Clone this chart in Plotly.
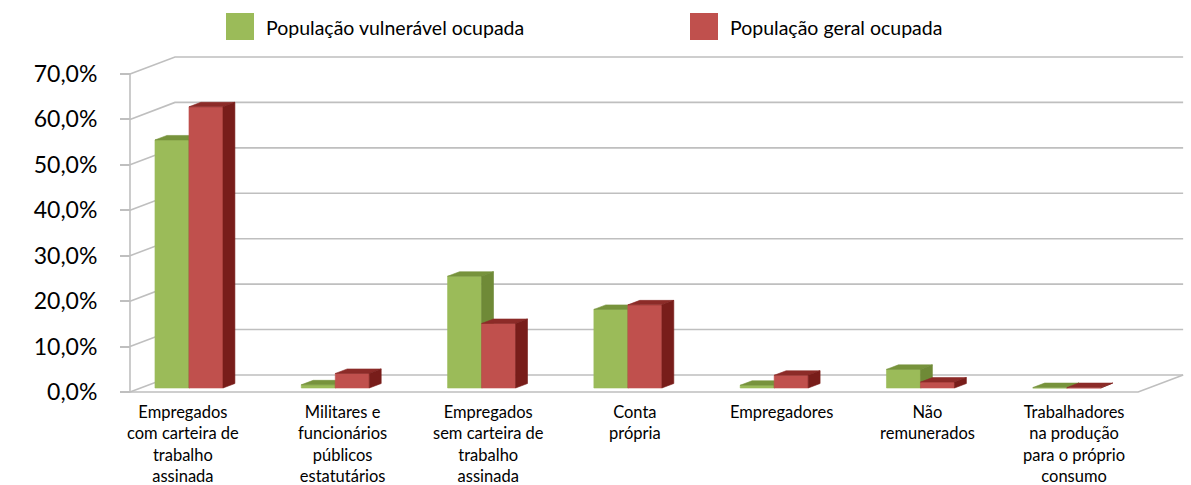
import plotly.graph_objects as go

# --- data -------------------------------------------------------------
categories = [
    "Empregados<br>com carteira de<br>trabalho<br>assinada",
    "Militares e<br>funcionários<br>públicos<br>estatutários",
    "Empregados<br>sem carteira de<br>trabalho<br>assinada",
    "Conta<br>própria",
    "Empregadores",
    "Não<br>remunerados",
    "Trabalhadores<br>na produção<br>para o próprio<br>consumo",
]
vulneravel = [54.6, 0.7, 24.6, 17.3, 0.6, 4.1, 0.1]
geral = [61.9, 3.2, 14.2, 18.3, 2.8, 1.3, 0.1]
series_names = ["População vulnerável ocupada", "População geral ocupada"]
y_ticks = [0, 10, 20, 30, 40, 50, 60, 70]
y_tick_text = [f"{v:.1f}%".replace(".", ",") for v in y_ticks]

# --- figure geometry --------------------------------------------------
W, H = 1191, 485
PX_PER_CAT = 146.3          # pixels per category step
PX_PER_PCT = 4.543          # pixels per percentage point
X0_PX = 178.4               # pixel x of category 0 on the front plane
Y0_PX = 392.0               # pixel y of 0 % on the front plane

# oblique depth vector (front plane -> back wall), in data units
DX = 45.0 / PX_PER_CAT
DY = 17.0 / PX_PER_PCT

X_LEFT = (130 - X0_PX) / PX_PER_CAT   # left edge of the floor / walls
X_RIGHT = 6.56                        # right edge of the floor / walls
BAR_W = 34.0 / PX_PER_CAT
D_FRONT, D_BACK = 0.235, 0.5          # bar depth span

GRID = "#BFBFBF"
GREEN = dict(front="#9BBB59", top="#77933C", side="#6F8A37")
RED = dict(front="#C0504D", top="#8C2B28", side="#781D1A")


def proj(x, y, d):
    return x + DX * d, y + DY * d


fig = go.Figure()


def add_lines(xs, ys, width=1.6, color=GRID):
    fig.add_trace(go.Scatter(x=xs, y=ys, mode="lines",
                             line=dict(color=color, width=width),
                             hoverinfo="skip", showlegend=False))


# side wall + back wall gridlines
gx, gy = [], []
for v in y_ticks:
    p0 = proj(X_LEFT, v, 0)
    p1 = proj(X_LEFT, v, 1)
    p2 = proj(X_RIGHT, v, 1)
    gx += [p0[0], p1[0], p2[0], None]
    gy += [p0[1], p1[1], p2[1], None]
add_lines(gx, gy)

# floor front and right edges
f0 = proj(X_LEFT, 0, 0)
f1 = proj(X_RIGHT, 0, 0)
f2 = proj(X_RIGHT, 0, 1)
add_lines([f0[0], f1[0], f2[0]], [f0[1], f1[1], f2[1]])

# vertical value axis on the front plane
add_lines([X_LEFT, X_LEFT], [0, y_ticks[-1]])


# --- 3-D columns ------------------------------------------------------
def box_faces(x_left, value):
    xr = x_left + BAR_W
    fbl = proj(x_left, 0, D_FRONT)
    fbr = proj(xr, 0, D_FRONT)
    ftl = proj(x_left, value, D_FRONT)
    ftr = proj(xr, value, D_FRONT)
    btl = proj(x_left, value, D_BACK)
    btr = proj(xr, value, D_BACK)
    bbr = proj(xr, 0, D_BACK)
    front = [fbl, fbr, ftr, ftl, fbl]
    top = [ftl, ftr, btr, btl, ftl]
    side = [fbr, bbr, btr, ftr, fbr]
    return front, top, side


def add_series(values, offset, colors):
    polys = {"front": ([], []), "top": ([], []), "side": ([], [])}
    for i, v in enumerate(values):
        front, top, side = box_faces(i + offset, v)
        for key, pts in (("front", front), ("top", top), ("side", side)):
            xs, ys = polys[key]
            xs += [p[0] for p in pts] + [None]
            ys += [p[1] for p in pts] + [None]
    for key in ("front", "top", "side"):
        xs, ys = polys[key]
        fig.add_trace(go.Scatter(
            x=xs, y=ys, mode="lines", fill="toself",
            fillcolor=colors[key],
            line=dict(color=colors[key], width=0.6),
            hoverinfo="skip", showlegend=False))


add_series(vulneravel, -BAR_W, GREEN)
add_series(geral, 0.0, RED)

# --- category labels --------------------------------------------------
label_y = (Y0_PX - 400) / PX_PER_PCT
for i, name in enumerate(categories):
    fig.add_annotation(
        x=i + 0.12, y=label_y, text=name, showarrow=False,
        xanchor="center", yanchor="top", align="center",
        xshift=-13 if i == 0 else 0,
        font=dict(family="Lato", size=16.5, color="#000000"))

# --- legend (drawn swatches + text) -----------------------------------
legend_items = [(226, series_names[0], GREEN["front"]),
                (690, series_names[1], RED["front"])]
for px, name, col in legend_items:
    fig.add_shape(type="rect", xref="paper", yref="paper",
                  x0=px / W, x1=(px + 28) / W,
                  y0=1 - 40 / H, y1=1 - 13 / H,
                  fillcolor=col, line=dict(width=0))
    fig.add_annotation(x=(px + 38) / W, y=1 - 27 / H, xref="paper", yref="paper",
                       text=name, showarrow=False, xanchor="left", yanchor="middle",
                       font=dict(family="Lato", size=19.5, color="#000000"))

# --- axes / layout ----------------------------------------------------
x_min = -X0_PX / PX_PER_CAT
x_max = (W - X0_PX) / PX_PER_CAT
y_max = Y0_PX / PX_PER_PCT
y_min = (Y0_PX - H) / PX_PER_PCT

fig.update_layout(
    width=W, height=H,
    margin=dict(l=0, r=0, t=0, b=0),
    paper_bgcolor="white", plot_bgcolor="white",
    showlegend=False,
    xaxis=dict(range=[x_min, x_max], visible=False, fixedrange=True),
    yaxis=dict(
        range=[y_min, y_max], anchor="free", position=130 / W,
        tickmode="array", tickvals=y_ticks, ticktext=y_tick_text,
        ticks="outside", ticklen=10, tickwidth=1.6, tickcolor=GRID,
        ticklabelstandoff=18,
        tickfont=dict(family="Lato", size=23, color="#000000"),
        showgrid=False, zeroline=False, showline=False, fixedrange=True),
)

fig.write_html("out.html")
